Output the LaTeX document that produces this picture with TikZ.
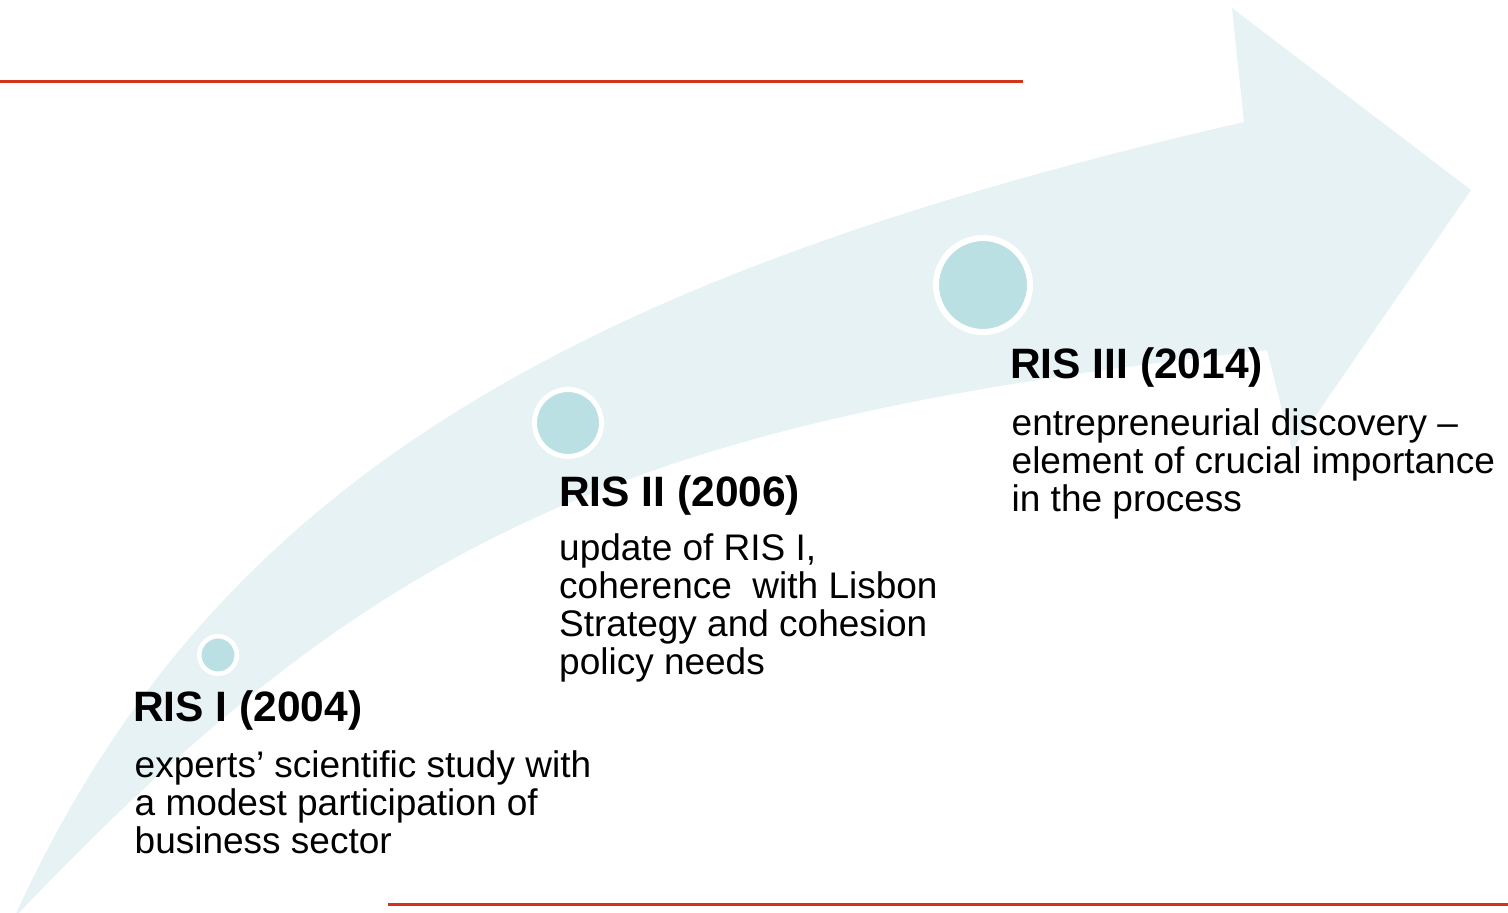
\documentclass[tikz,border=0pt]{standalone}
\usepackage{fontspec}
\setmainfont{Liberation Sans}
\definecolor{bandfill}{RGB}{230,242,244}
\definecolor{dotfill}{RGB}{186,224,227}
\definecolor{rulered}{RGB}{209,52,27}
\tikzset{
  ristitle/.style={anchor=base west, inner sep=0pt, font=\fontsize{42.5}{43}\selectfont\bfseries},
  risbody/.style={anchor=base west, inner sep=0pt, font=\fontsize{37}{38}\selectfont},
  dot/.style={circle, fill=dotfill, draw=white, inner sep=0pt},
  redrule/.style={draw=rulered, line width=3pt}
}
\newcommand{\risl}[1]{\begin{tabular}[t]{@{}l@{}}#1\end{tabular}}
\begin{document}
\begin{tikzpicture}[x=1pt,y=-1pt]
\useasboundingbox (0,0) rectangle (1508,913);
% curved band arrow
\fill[bandfill] (14,918) .. controls (209,488) and (565,278) .. (1244,122)
  -- (1232,8) -- (1471,190) -- (1292,450) -- (1267,350)
  .. controls (631,420) and (380,533) .. (14,918) -- cycle;
% red rules
\coordinate (tl0) at (0,81);
\coordinate (tl1) at (1023,81);
\coordinate (bl0) at (388,904);
\coordinate (bl1) at (1508,904);
\draw[redrule] (tl0) -- (tl1);
\draw[redrule] (bl0) -- (bl1);
% dots
\node[dot, minimum size=37.5pt, line width=4.5pt] (d1) at (218,655) {};
\node[dot, minimum size=67pt, line width=5pt] (d2) at (568,423) {};
\node[dot, minimum size=94pt, line width=6pt] (d3) at (983,285) {};
% texts
\node[ristitle] (t1) at (133,721) {RIS I (2004)};
\node[risbody] (b1) at (134.5,777) {\risl{experts’ scientific study with\\a modest participation of\\business sector}};
\node[ristitle] (t2) at (559,506) {RIS II (2006)};
\node[risbody] (b2) at (559,560) {\risl{update of RIS I,\\coherence~ with Lisbon\\Strategy and cohesion\\policy needs}};
\node[ristitle] (t3) at (1010,378) {RIS III (2014)};
\node[risbody] (b3) at (1011.5,435) {\risl{entrepreneurial discovery –\\element of crucial importance\\in the process}};
\end{tikzpicture}
\end{document}
